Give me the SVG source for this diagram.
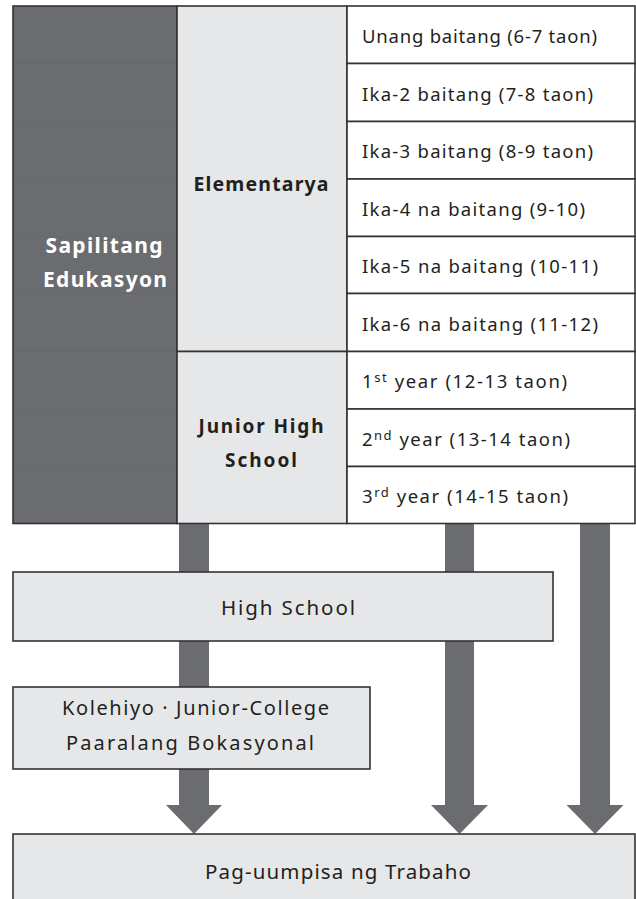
<svg xmlns="http://www.w3.org/2000/svg" width="636" height="899" viewBox="0 0 636 899">
<style>
.dark{fill:#6b6c70}
.light{fill:#e6e7e9;stroke:#333;stroke-width:1.6}
.cell{fill:#fff;stroke:#333;stroke-width:1.6}
.faint{stroke:#67686c;stroke-width:1}
.t{font-family:"Noto Sans","Liberation Sans",sans-serif;fill:#231f20}
.b{font-weight:bold}
.w{fill:#ffffff}
.m{text-anchor:middle}
.arrow{fill:#6b6c70}
</style>
<rect width="636" height="899" fill="#ffffff"/>
<g id="connectors">
<path class="arrow" d="M179,523.5 H209 V805 H222 L194,834 L166,805 H179 Z"/>
<path class="arrow" d="M445,523.5 H474 V805 H488 L459.5,834 L431,805 H445 Z"/>
<path class="arrow" d="M580,523.5 H610 V805 H623.5 L595,834 L566.5,805 H580 Z"/>
</g>
<g id="sapilitang">
<rect x="13" y="6" width="164" height="517.5" class="dark" stroke="#333" stroke-width="1.6"/>
<line class="faint" x1="14" y1="63.5" x2="176" y2="63.5"/>
<line class="faint" x1="14" y1="121.5" x2="176" y2="121.5"/>
<line class="faint" x1="14" y1="179" x2="176" y2="179"/>
<line class="faint" x1="14" y1="236.5" x2="176" y2="236.5"/>
<line class="faint" x1="14" y1="293.5" x2="176" y2="293.5"/>
<line class="faint" x1="14" y1="351.5" x2="176" y2="351.5"/>
<line class="faint" x1="14" y1="409" x2="176" y2="409"/>
<line class="faint" x1="14" y1="466.5" x2="176" y2="466.5"/>
<text class="t b w m" x="104" y="253" font-size="21" textLength="117" lengthAdjust="spacing">Sapilitang</text>
<text class="t b w m" x="105" y="287" font-size="21" textLength="124" lengthAdjust="spacing">Edukasyon</text>
</g>
<g id="elementarya">
<rect x="177" y="6" width="170" height="345.5" class="light"/>
<text class="t b m" x="261" y="191" font-size="19.5" textLength="135" lengthAdjust="spacing">Elementarya</text>
</g>
<g id="junior-high">
<rect x="177" y="351.5" width="170" height="172" class="light"/>
<text class="t b m" x="261" y="433" font-size="19" textLength="125" lengthAdjust="spacing">Junior High</text>
<text class="t b m" x="261" y="466.5" font-size="19" textLength="72" lengthAdjust="spacing">School</text>
</g>
<g id="grade1">
<rect x="347" y="6" width="288" height="57.5" class="cell"/>
<text class="t" x="362" y="42.75" font-size="18.5" textLength="235" lengthAdjust="spacing">Unang baitang (6-7 taon)</text>
</g>
<g id="grade2">
<rect x="347" y="63.5" width="288" height="58" class="cell"/>
<text class="t" x="362" y="100.5" font-size="18.5" textLength="231" lengthAdjust="spacing">Ika-2 baitang (7-8 taon)</text>
</g>
<g id="grade3">
<rect x="347" y="121.5" width="288" height="57.5" class="cell"/>
<text class="t" x="362" y="158.25" font-size="18.5" textLength="231" lengthAdjust="spacing">Ika-3 baitang (8-9 taon)</text>
</g>
<g id="grade4">
<rect x="347" y="179" width="288" height="57.5" class="cell"/>
<text class="t" x="362" y="215.75" font-size="18.5" textLength="223" lengthAdjust="spacing">Ika-4 na baitang (9-10)</text>
</g>
<g id="grade5">
<rect x="347" y="236.5" width="288" height="57" class="cell"/>
<text class="t" x="362" y="273" font-size="18.5" textLength="236" lengthAdjust="spacing">Ika-5 na baitang (10-11)</text>
</g>
<g id="grade6">
<rect x="347" y="293.5" width="288" height="58" class="cell"/>
<text class="t" x="362" y="330.5" font-size="18.5" textLength="236" lengthAdjust="spacing">Ika-6 na baitang (11-12)</text>
</g>
<g id="year1">
<rect x="347" y="351.5" width="288" height="57.5" class="cell"/>
<text class="t" x="362" y="388.25" font-size="18.5" textLength="205" lengthAdjust="spacing">1<tspan font-size="13" dy="-6">st</tspan><tspan dy="6"> year (12-13 taon)</tspan></text>
</g>
<g id="year2">
<rect x="347" y="409" width="288" height="57.5" class="cell"/>
<text class="t" x="362" y="445.75" font-size="18.5" textLength="208" lengthAdjust="spacing">2<tspan font-size="13" dy="-6">nd</tspan><tspan dy="6"> year (13-14 taon)</tspan></text>
</g>
<g id="year3">
<rect x="347" y="466.5" width="288" height="57" class="cell"/>
<text class="t" x="362" y="503" font-size="18.5" textLength="206" lengthAdjust="spacing">3<tspan font-size="13" dy="-6">rd</tspan><tspan dy="6"> year (14-15 taon)</tspan></text>
</g>
<g id="high-school">
<rect x="13" y="572" width="540" height="69" class="light"/>
<text class="t m" x="288" y="615" font-size="20.5" textLength="134" lengthAdjust="spacing">High School</text>
</g>
<g id="kolehiyo">
<rect x="13" y="687" width="357" height="82" class="light"/>
<text class="t m" x="195.5" y="715" font-size="20" textLength="267" lengthAdjust="spacing">Kolehiyo · Junior-College</text>
<text class="t m" x="190" y="750" font-size="20" textLength="248" lengthAdjust="spacing">Paaralang Bokasyonal</text>
</g>
<g id="trabaho">
<rect x="13" y="834" width="622" height="80" class="light"/>
<text class="t m" x="338" y="879" font-size="20.5" textLength="266" lengthAdjust="spacing">Pag-uumpisa ng Trabaho</text>
</g>
</svg>
